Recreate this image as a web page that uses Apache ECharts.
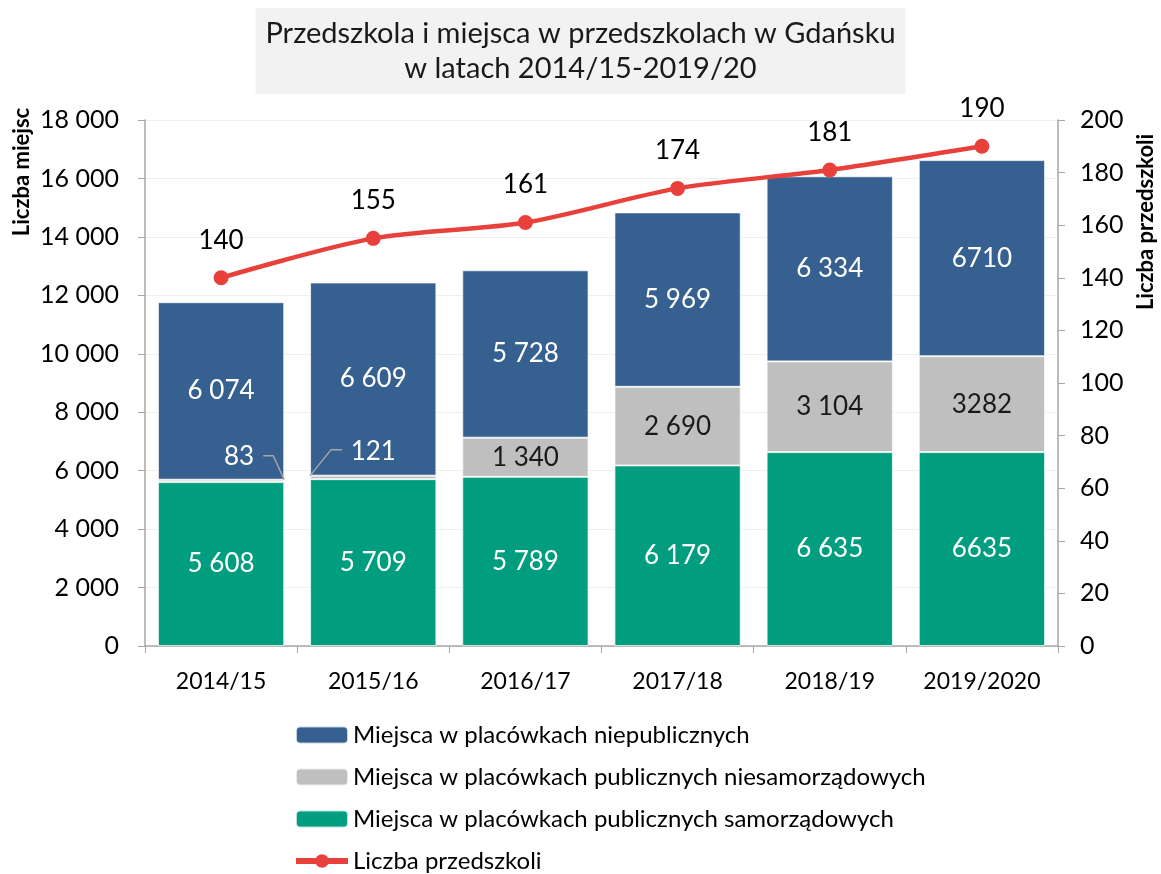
<!DOCTYPE html>
<html>
<head>
<meta charset="utf-8">
<title>Przedszkola w Gdańsku</title>
<script src="https://cdn.jsdelivr.net/npm/echarts@6/dist/echarts.min.js"></script>
<style>
  html, body { margin: 0; padding: 0; background: #fff; }
  #chart { width: 1161px; height: 874px; }
</style>
</head>
<body>
<div id="chart"></div>
<script>
// school years
const years = ['2014/15', '2015/16', '2016/17', '2017/18', '2018/19', '2019/2020']

// places by type of kindergarten
const samorzadowe = [5608, 5709, 5789, 6179, 6635, 6635]
const niesamorzadowe = [83, 121, 1340, 2690, 3104, 3282]
const niepubliczne = [6074, 6609, 5728, 5969, 6334, 6710]

// number of kindergartens
const przedszkola = [140, 155, 161, 174, 181, 190]

// columns whose grey segment is too thin for an inside label
const thinSegments = [0, 1]

const FONT = 'Lato'
const BAR_RATIO = 0.83
const RED = '#e8413b'

// last column is printed without thousands separator in the source
const fmt = (p) => {
  const v = String(p.value)
  return p.dataIndex === 5 ? v : v.replace(/\B(?=(\d{3})+(?!\d))/g, ' ')
}

// thin segments: label moved above the bar top
const smallLabel = (p) => {
  const r = p.rect
  if (p.dataIndex === 0) {
    return { x: r.x + r.width / 2 + 18, y: r.y - 23, align: 'center', verticalAlign: 'middle' }
  }
  if (p.dataIndex === 1) {
    return { x: r.x + r.width / 2, y: r.y - 24, align: 'center', verticalAlign: 'middle' }
  }
  return {}
}

// leader lines from the moved labels back to the grey segment corner
const leaderLine = (params, api) => {
  const idx = api.value(0)
  const top = api.coord([idx, api.value(1)])
  const hw = api.size([1, 0])[0] * BAR_RATIO / 2
  let pts
  if (params.dataIndex === 0) {
    const c = [top[0] + hw, top[1]]
    pts = [c, [c[0] - 11, c[1] - 24], [c[0] - 21, c[1] - 24]]
  } else {
    const c = [top[0] - hw, top[1]]
    pts = [c, [c[0] + 21, c[1] - 26], [c[0] + 32, c[1] - 26]]
  }
  return {
    type: 'polyline',
    shape: { points: pts },
    style: { stroke: '#a6a6a6', lineWidth: 1.5, fill: null },
  }
}

const chart = echarts.init(document.getElementById('chart'))

chart.setOption({
  backgroundColor: '#fff',
  textStyle: { fontFamily: FONT },
  title: {
    text: 'Przedszkola i miejsca w przedszkolach w Gdańsku\nw latach 2014/15-2019/20',
    left: 'center',
    top: 8,
    backgroundColor: '#f2f2f2',
    padding: [8, 10, 8, 10],
    textStyle: {
      fontFamily: FONT,
      fontSize: 29,
      fontWeight: 'normal',
      color: '#1a1a1a',
      lineHeight: 35,
    },
  },
  graphic: [
    {
      type: 'text',
      x: 22, y: 172,
      rotation: Math.PI / 2,
      style: {
        text: 'Liczba miejsc',
        font: 'bold 22px ' + FONT,
        fill: '#000',
        align: 'center',
        verticalAlign: 'middle',
      },
    },
    {
      type: 'text',
      x: 1146, y: 222,
      rotation: Math.PI / 2,
      style: {
        text: 'Liczba przedszkoli',
        font: 'bold 22px ' + FONT,
        fill: '#000',
        align: 'center',
        verticalAlign: 'middle',
      },
    },
  ],
  legend: {
    orient: 'vertical',
    left: 288,
    top: 717,
    height: 160,
    itemWidth: 52,
    itemHeight: 17,
    itemGap: 16,
    data: [
      'Miejsca w placówkach niepublicznych',
      'Miejsca w placówkach publicznych niesamorządowych',
      'Miejsca w placówkach publicznych samorządowych',
      { name: 'Liczba przedszkoli', lineStyle: { width: 6, color: RED } },
    ],
    textStyle: { fontFamily: FONT, fontSize: 24, color: '#000', lineHeight: 26 },
  },
  grid: { left: 145, right: 103, top: 120, bottom: 228 },
  xAxis: {
    type: 'category',
    data: years,
    axisLine: { lineStyle: { color: '#a6a6a6', width: 1.5 } },
    axisTick: { show: true, length: 7, lineStyle: { color: '#a6a6a6' } },
    axisLabel: { fontFamily: FONT, fontSize: 23, color: '#000', margin: 24, interval: 0 },
  },
  yAxis: [
    {
      type: 'value',
      min: 0,
      max: 18000,
      interval: 2000,
      axisLine: { show: true, lineStyle: { color: '#a6a6a6', width: 1.5 } },
      axisTick: { show: true, length: 7, lineStyle: { color: '#a6a6a6' } },
      splitLine: { lineStyle: { color: '#efefef' } },
      axisLabel: {
        fontFamily: FONT,
        fontSize: 25,
        color: '#000',
        margin: 26,
        formatter: (v) => String(v).replace(/\B(?=(\d{3})+(?!\d))/g, ' '),
      },
    },
    {
      type: 'value',
      min: 0,
      max: 200,
      interval: 20,
      position: 'right',
      axisLine: { show: true, lineStyle: { color: '#a6a6a6', width: 1.5 } },
      axisTick: { show: true, length: 7, lineStyle: { color: '#a6a6a6' } },
      splitLine: { show: false },
      axisLabel: { fontFamily: FONT, fontSize: 25, color: '#000', margin: 22 },
    },
  ],
  series: [
    {
      name: 'Miejsca w placówkach publicznych samorządowych',
      type: 'bar',
      stack: 'miejsca',
      barWidth: BAR_RATIO * 100 + '%',
      data: samorzadowe,
      itemStyle: { color: '#009e7e', borderColor: 'rgba(255,255,255,0.7)', borderWidth: 1 },
      label: {
        show: true,
        position: 'inside',
        color: '#fff',
        fontFamily: FONT,
        fontSize: 26,
        formatter: fmt,
      },
      emphasis: { disabled: true },
    },
    {
      name: 'Miejsca w placówkach publicznych niesamorządowych',
      type: 'bar',
      stack: 'miejsca',
      data: niesamorzadowe.map((v, i) => ({
        value: v,
        label: thinSegments.includes(i) ? { color: '#fff' } : undefined,
      })),
      itemStyle: { color: '#bfbfbf', borderColor: 'rgba(255,255,255,0.7)', borderWidth: 1 },
      label: {
        show: true,
        position: 'inside',
        color: '#1a1a1a',
        fontFamily: FONT,
        fontSize: 26,
        formatter: fmt,
      },
      labelLayout: smallLabel,
      z: 3,
      emphasis: { disabled: true },
    },
    {
      name: 'Miejsca w placówkach niepublicznych',
      type: 'bar',
      stack: 'miejsca',
      data: niepubliczne,
      itemStyle: { color: '#36608f', borderColor: 'rgba(255,255,255,0.7)', borderWidth: 1 },
      label: {
        show: true,
        position: 'inside',
        color: '#fff',
        fontFamily: FONT,
        fontSize: 26,
        formatter: fmt,
      },
      z: 2,
      emphasis: { disabled: true },
    },
    {
      type: 'custom',
      name: 'leader',
      renderItem: leaderLine,
      data: thinSegments.map((i) => [i, samorzadowe[i] + niesamorzadowe[i]]),
      z: 4,
      silent: true,
      tooltip: { show: false },
    },
    {
      name: 'Liczba przedszkoli',
      type: 'line',
      yAxisIndex: 1,
      data: przedszkola,
      smooth: 0.3,
      symbol: 'circle',
      symbolSize: 15,
      lineStyle: { color: RED, width: 4.5 },
      itemStyle: { color: RED },
      label: {
        show: true,
        position: 'top',
        distance: 17,
        color: '#000',
        fontFamily: FONT,
        fontSize: 26,
      },
      z: 5,
      emphasis: { disabled: true },
    },
  ],
})

window.addEventListener('resize', () => chart.resize())
</script>
</body>
</html>
